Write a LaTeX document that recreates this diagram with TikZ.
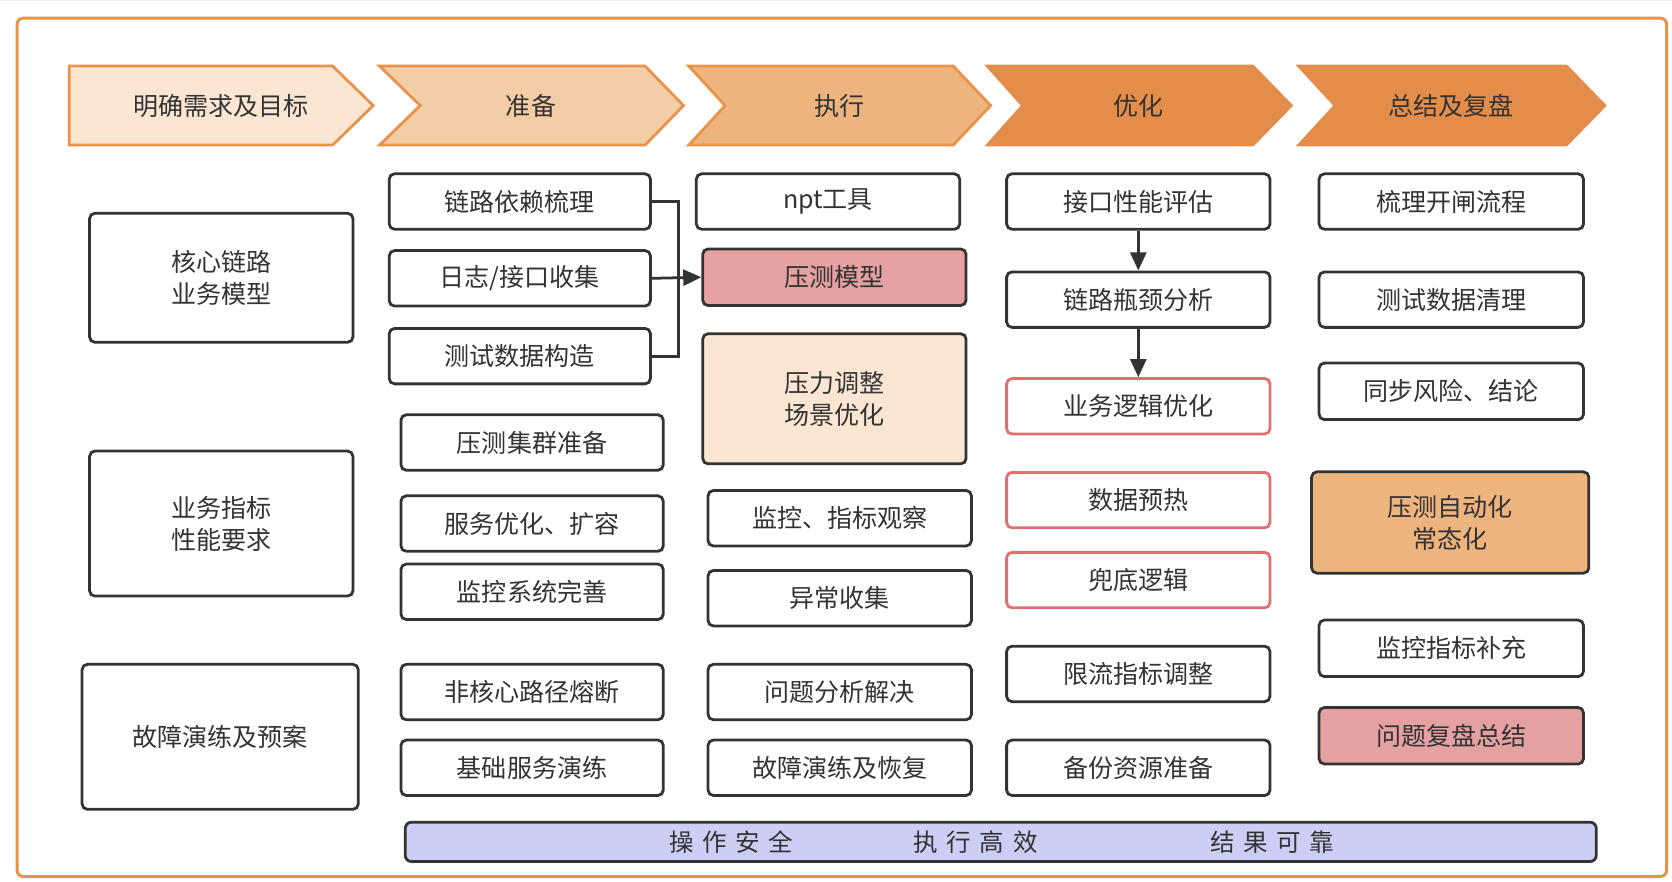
\documentclass[tikz,border=0pt]{standalone}
\usepackage{fontspec}
\newfontfamily\cjk{Noto Sans CJK SC}
\usetikzlibrary{arrows.meta}
\definecolor{frame}{HTML}{E8924A}
\definecolor{hA}{HTML}{FAE6D3}
\definecolor{hB}{HTML}{F2CDA6}
\definecolor{hC}{HTML}{EDB47E}
\definecolor{hD}{HTML}{E48C4A}
\definecolor{boxline}{HTML}{333333}
\definecolor{txt}{HTML}{333333}
\definecolor{pinkfill}{HTML}{E5A1A1}
\definecolor{redline}{HTML}{E0706E}
\definecolor{lav}{HTML}{CDCEF5}
\definecolor{gridc}{HTML}{F0F0F0}
\tikzset{
  box/.style={draw=boxline, line width=2.6pt, rounded corners=5pt, fill=white,
    text=txt, align=center, inner sep=0pt,
    font=\cjk\fontsize{23.5}{30}\selectfont},
  sbox/.style={box, minimum width=247pt, minimum height=52pt},
  redbox/.style={sbox, draw=redline},
  hdr/.style={line width=2.6pt, line join=miter},
  hdrtext/.style={text=txt, font=\cjk\fontsize{23.5}{30}\selectfont, inner sep=0pt},
  conn/.style={draw=boxline, line width=2.6pt},
  tip/.style={-{Triangle[length=17pt,width=15pt]}},
  bartext/.style={text=txt, font=\cjk\fontsize{23}{30}\selectfont, inner sep=0pt},
}
\begin{document}
\begin{tikzpicture}[x=1pt,y=-1pt]
\useasboundingbox (0,0) rectangle (1568,827);
% background grid
\draw[gridc, line width=0.8pt, step=27pt] (0,0) grid (1568,-827);
% frame
\draw[draw=frame, line width=2.8pt, fill=white, rounded corners=6pt] (16,17) rectangle (1563,822);

% header chevrons
\draw[hdr, draw=frame, fill=hA] (65,62) -- (312,62) -- (350,99) -- (312,136) -- (65,136) -- cycle;
\draw[hdr, draw=frame, fill=hB] (356,62) -- (605,62) -- (641,99) -- (605,136) -- (356,136) -- (394,99) -- cycle;
\draw[hdr, draw=frame, fill=hC] (646,62) -- (894,62) -- (929,99) -- (894,136) -- (646,136) -- (680,99) -- cycle;
\draw[hdr, draw=hD, fill=hD] (926,62) -- (1175,62) -- (1211,99) -- (1175,136) -- (926,136) -- (959,99) -- cycle;
\draw[hdr, draw=hD, fill=hD] (1218,62) -- (1469,62) -- (1505,99) -- (1469,136) -- (1218,136) -- (1252,99) -- cycle;
\node[hdrtext] (h1) at (207,99) {明确需求及目标};
\node[hdrtext] (h2) at (498,99) {准备};
\node[hdrtext] (h3) at (787,99) {执行};
\node[hdrtext] (h4) at (1068,99) {优化};
\node[hdrtext] (h5) at (1361,99) {总结及复盘};

% column 1
\node[box, minimum width=247pt, minimum height=121pt] (c1a) at (207.5,260.5) {核心链路\\业务模型};
\node[box, minimum width=247pt, minimum height=136pt] (c1b) at (207.5,491) {业务指标\\性能要求};
\node[box, minimum width=259pt, minimum height=136pt] (c1c) at (206.5,691) {故障演练及预案};

% column 2
\node[sbox, minimum width=245pt] (c2a) at (487.5,189) {链路依赖梳理};
\node[sbox, minimum width=245pt] (c2b) at (487.5,261) {日志/接口收集};
\node[sbox, minimum width=245pt] (c2c) at (487.5,334) {测试数据构造};
\node[sbox, minimum width=246pt] (c2d) at (499,415) {压测集群准备};
\node[sbox, minimum width=246pt] (c2e) at (499,491) {服务优化、扩容};
\node[sbox, minimum width=246pt] (c2f) at (499,555) {监控系统完善};
\node[sbox, minimum width=246pt] (c2g) at (499,649) {非核心路径熔断};
\node[sbox, minimum width=246pt] (c2h) at (499,720) {基础服务演练};

% column 3
\node[sbox] (c3a) at (776.5,189) {npt工具};
\node[sbox, fill=pinkfill, minimum height=53pt] (c3b) at (782.5,260) {压测模型};
\node[box, fill=hA, minimum width=247pt, minimum height=122pt] (c3c) at (782.5,374) {压力调整\\场景优化};
\node[sbox] (c3d) at (787.5,486) {监控、指标观察};
\node[sbox] (c3e) at (787.5,561) {异常收集};
\node[sbox] (c3f) at (787.5,649) {问题分析解决};
\node[sbox] (c3g) at (787.5,720) {故障演练及恢复};

% column 4
\node[sbox] (c4a) at (1067.5,189) {接口性能评估};
\node[sbox] (c4b) at (1067.5,281) {链路瓶颈分析};
\node[redbox] (c4c) at (1067.5,381) {业务逻辑优化};
\node[redbox] (c4d) at (1067.5,469) {数据预热};
\node[redbox] (c4e) at (1067.5,544) {兜底逻辑};
\node[sbox] (c4f) at (1067.5,632) {限流指标调整};
\node[sbox] (c4g) at (1067.5,720) {备份资源准备};

% column 5
\node[sbox, minimum width=248pt] (c5a) at (1361,189) {梳理开闸流程};
\node[sbox, minimum width=248pt] (c5b) at (1361,281) {测试数据清理};
\node[sbox, minimum width=248pt, minimum height=53pt] (c5c) at (1361,367) {同步风险、结论};
\node[box, fill=hC, minimum width=260pt, minimum height=95pt] (c5d) at (1360,490) {压测自动化\\常态化};
\node[sbox, minimum width=248pt, minimum height=53pt] (c5e) at (1361,608) {监控指标补充};
\node[sbox, fill=pinkfill, minimum width=248pt, minimum height=53pt] (c5f) at (1361,690) {问题复盘总结};

% connectors
\coordinate (j) at (636,261);
\draw[conn, line join=miter] (c2a.east) -| (j) |- (c2c.east);
\draw[conn, tip] (c2b.east) -- (c3b.west);
\draw[conn, tip] (c4a.south) -- (c4b.north);
\draw[conn, tip] (c4b.south) -- (c4c.north);

% bottom bar
\node[box, fill=lav, minimum width=1117pt, minimum height=37pt, rounded corners=6pt] (bar) at (938.5,789.5) {};
\node[bartext] (t1) at (686,790) {操\hspace{8pt}作\hspace{8pt}安\hspace{8pt}全};
\node[bartext] (t2) at (915,790) {执\hspace{8pt}行\hspace{8pt}高\hspace{8pt}效};
\node[bartext] (t3) at (1193,790) {结\hspace{8pt}果\hspace{8pt}可\hspace{8pt}靠};
\end{tikzpicture}
\end{document}
